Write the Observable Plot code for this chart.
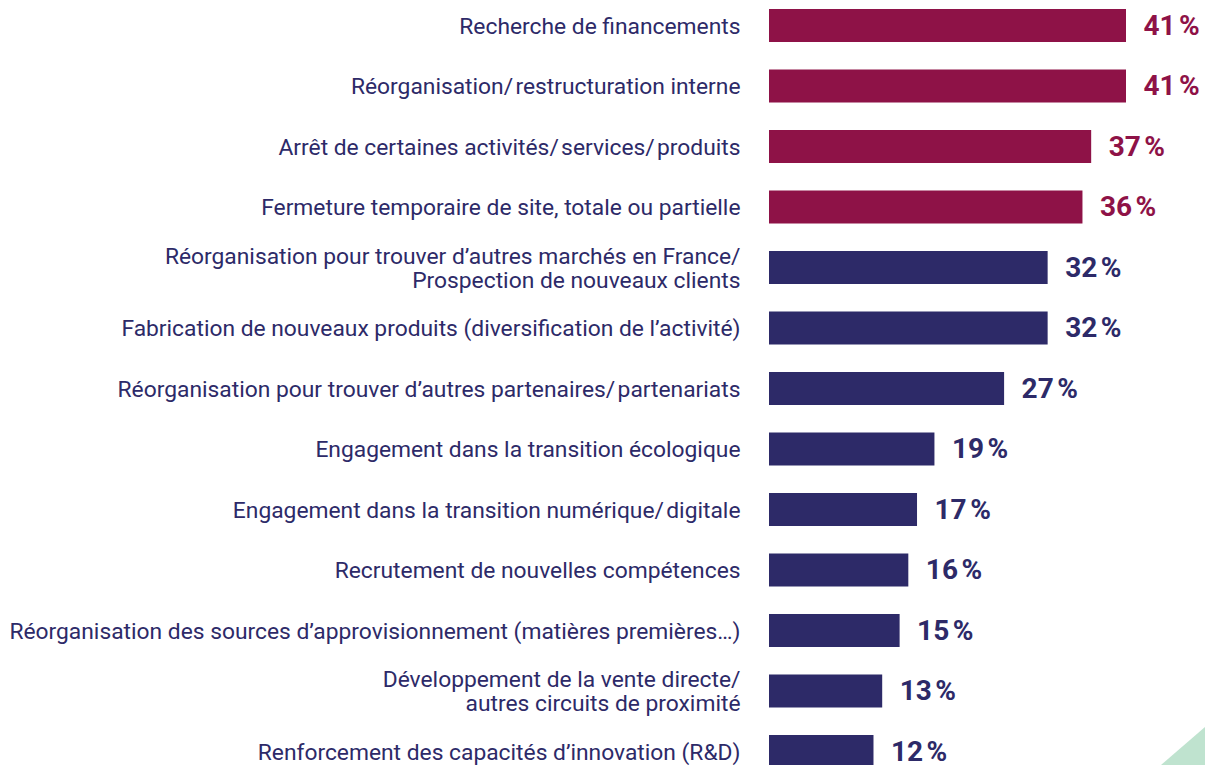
<!DOCTYPE html>
<html>
<head>
<meta charset="utf-8">
<script src="https://cdn.jsdelivr.net/npm/d3@7"></script>
<script src="https://cdn.jsdelivr.net/npm/@observablehq/plot@0.6"></script>
<style>
  html, body { margin: 0; padding: 0; background: #fff; }
  #wrap { position: relative; width: 1205px; height: 765px; overflow: hidden; }
  #deco { position: absolute; left: 0; top: 0; pointer-events: none; }
</style>
</head>
<body>
<div id="wrap"></div>
<script>
const categories = [
  "Recherche de financements",
  "Réorganisation/\u200Arestructuration interne",
  "Arrêt de certaines activités/\u200Aservices/\u200Aproduits",
  "Fermeture temporaire de site, totale ou partielle",
  "Réorganisation pour trouver d’autres marchés en France/\nProspection de nouveaux clients",
  "Fabrication de nouveaux produits (diversification de l’activité)",
  "Réorganisation pour trouver d’autres partenaires/\u200Apartenariats",
  "Engagement dans la transition écologique",
  "Engagement dans la transition numérique/\u200Adigitale",
  "Recrutement de nouvelles compétences",
  "Réorganisation des sources d’approvisionnement (matières premières…)",
  "Développement de la vente directe/\nautres circuits de proximité",
  "Renforcement des capacités d’innovation (R&D)"
];
const values = [41, 41, 37, 36, 32, 32, 27, 19, 17, 16, 15, 13, 12];
const groups = ["top", "top", "top", "top", "other", "other", "other", "other", "other", "other", "other", "other", "other"];

const data = categories.map((c, i) => ({cat: c, value: values[i], group: groups[i]}));
const colorOf = g => g === "top" ? "#8e1247" : "#2d2a68";

const chart = Plot.plot({
  width: 1205,
  height: 765,
  margin: 0,
  style: {fontFamily: "Roboto, sans-serif", background: "#fff", overflow: "hidden"},
  x: {domain: [0, 41], range: [769, 1126], axis: null},
  y: {domain: categories, range: [9, 768], paddingInner: 0.4545, paddingOuter: 0, round: false, axis: null},
  marks: [
    Plot.barX(data, {x: "value", y: "cat", fill: d => colorOf(d.group)}),
    Plot.text(data, {
      x: 0, y: "cat", text: "cat", dx: -29, textAnchor: "end", lineAnchor: "middle",
      lineHeight: 1.06, fontSize: 22.8, fill: "#2d2a68"
    }),
    Plot.text(data, {
      x: "value", y: "cat", text: d => d.value + "\u202F%", dx: 17, textAnchor: "start",
      fontSize: 28, fontWeight: "bold", fill: d => colorOf(d.group)
    })
  ]
});
document.getElementById("wrap").appendChild(chart);

const ns = "http://www.w3.org/2000/svg";
const deco = document.createElementNS(ns, "svg");
deco.setAttribute("id", "deco");
deco.setAttribute("width", "1205");
deco.setAttribute("height", "765");
const tri = document.createElementNS(ns, "polygon");
tri.setAttribute("points", "1161,765 1205,727 1205,765");
tri.setAttribute("fill", "#bfe3cf");
deco.appendChild(tri);
document.getElementById("wrap").appendChild(deco);
</script>
</body>
</html>
